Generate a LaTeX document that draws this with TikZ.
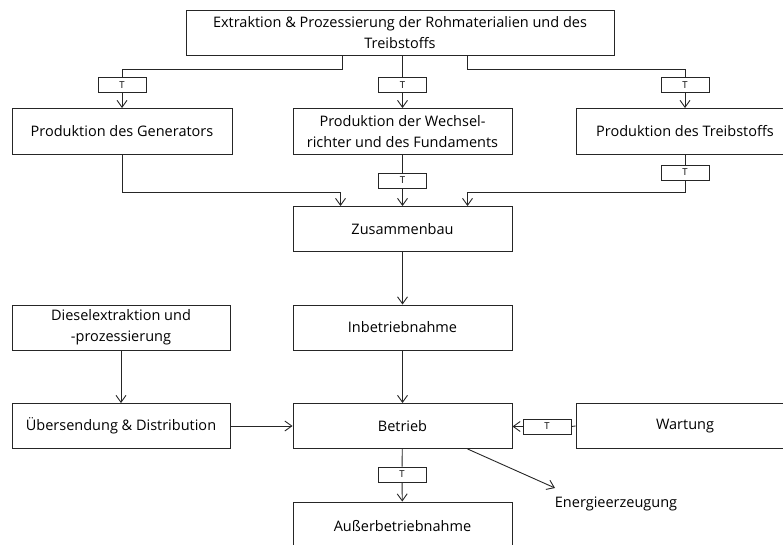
\documentclass[tikz,border=0pt]{standalone}
\usepackage{fontspec}
\setmainfont{Open Sans}
\usetikzlibrary{arrows.meta,positioning}
\definecolor{FlowLine}{HTML}{262626}
\tikzset{
  flowarrow/.style={-{Straight Barb[length=7pt,width=10pt]},line width=0.9pt,draw=FlowLine},
  flowline/.style={line width=0.9pt,draw=FlowLine},
  stage/.style={draw=FlowLine,line width=0.9pt,fill=white,align=center,inner sep=2pt,
    font=\fontsize{14.5}{21}\selectfont},
  tmark/.style={draw=FlowLine,line width=0.9pt,fill=white,minimum width=48pt,minimum height=15pt,
    inner sep=0pt,font=\fontsize{9.5}{10}\selectfont},
  note/.style={align=left,font=\fontsize{14.5}{21}\selectfont}
}
\begin{document}
\begin{tikzpicture}[x=1pt,y=-1pt]
  \useasboundingbox (0,0) rectangle (783,545);

  % Raw materials and component production.
  \node[stage,minimum width=428pt,minimum height=45pt] (rohstoff) at (400,32.5)
    {Extraktion \& Prozessierung der Rohmaterialien und des\\Treibstoffs};
  \node[stage,minimum width=220pt,minimum height=46pt] (generator) at (122,131.5)
    {Produktion des Generators};
  \node[stage,minimum width=219pt,minimum height=46pt] (wechsel) at (402.5,131.5)
    {Produktion der Wechsel-\\richter und des Fundaments};
  \node[stage,minimum width=218pt,minimum height=46pt] (treibstoff) at (685,131.5)
    {Produktion des Treibstoffs};

  % Transport marks between the stages.
  \node[tmark] (tgen) at (122,85) {T};
  \node[tmark] (twech) at (402.5,85) {T};
  \node[tmark] (ttreib) at (685,85) {T};
  \node[tmark] (twechunten) at (402.5,180.5) {T};
  \node[tmark] (ttreibunten) at (685,172.5) {T};

  % Assembly and operation chain.
  \node[stage,minimum width=219pt,minimum height=45pt] (zusammenbau) at (402.5,229)
    {Zusammenbau};
  \node[stage,minimum width=219pt,minimum height=45pt] (inbetrieb) at (402.5,327.5)
    {Inbetriebnahme};
  \node[stage,minimum width=219pt,minimum height=45pt] (betrieb) at (402.5,426)
    {Betrieb};
  \node[stage,minimum width=219pt,minimum height=48pt] (ausser) at (402.5,526)
    {Außerbetriebnahme};

  % Diesel supply and maintenance.
  \node[stage,minimum width=218pt,minimum height=45pt] (diesel) at (121,327.5)
    {Dieselextraktion und\\-prozessierung};
  \node[stage,minimum width=218pt,minimum height=45pt] (uebersendung) at (121,426)
    {Übersendung \& Distribution};
  \node[stage,minimum width=218pt,minimum height=45pt] (wartung) at (685,426)
    {Wartung};
  \node[tmark] (twartung) at (547,426.5) {T};
  \node[tmark] (tbetrieb) at (402,474.5) {T};

  \node[note] (energie) at (616,504) {Energieerzeugung};
  \coordinate (energieend) at (555,488);

  \draw[flowline] ([xshift=-58pt]rohstoff.south) -- ++(0,14) -| (tgen.north);
  \draw[flowline] (rohstoff.south -| twech) -- (twech);
  \draw[flowline] ([xshift=67pt]rohstoff.south) -- ++(0,14) -| (ttreib.north);
  \draw[flowarrow] (tgen) -- (generator);
  \draw[flowarrow] (twech) -- (wechsel);
  \draw[flowarrow] (ttreib) -- (treibstoff);

  \draw[flowarrow] (generator.south) -- ++(0,38) -| ([xshift=-62pt]zusammenbau.north);
  \draw[flowline] (wechsel) -- (twechunten);
  \draw[flowarrow] (twechunten) -- (zusammenbau);
  \draw[flowline] (treibstoff) -- (ttreibunten);
  \draw[flowarrow] (ttreibunten.south) -- ++(0,12) -| ([xshift=65pt]zusammenbau.north);

  \draw[flowarrow] (zusammenbau) -- (inbetrieb);
  \draw[flowarrow] (inbetrieb) -- (betrieb);
  \draw[flowarrow] (diesel) -- (uebersendung);
  \draw[flowarrow] (uebersendung) -- (betrieb);
  \draw[flowline] (wartung.west) -- (twartung.east);
  \draw[flowarrow] (twartung.west) -- (twartung.west -| betrieb.east);
  \draw[flowline] (betrieb) -- (tbetrieb);
  \draw[flowarrow] (tbetrieb) -- (ausser);
  \draw[flowarrow] ([xshift=65pt]betrieb.south) -- (energieend);
\end{tikzpicture}
\end{document}
